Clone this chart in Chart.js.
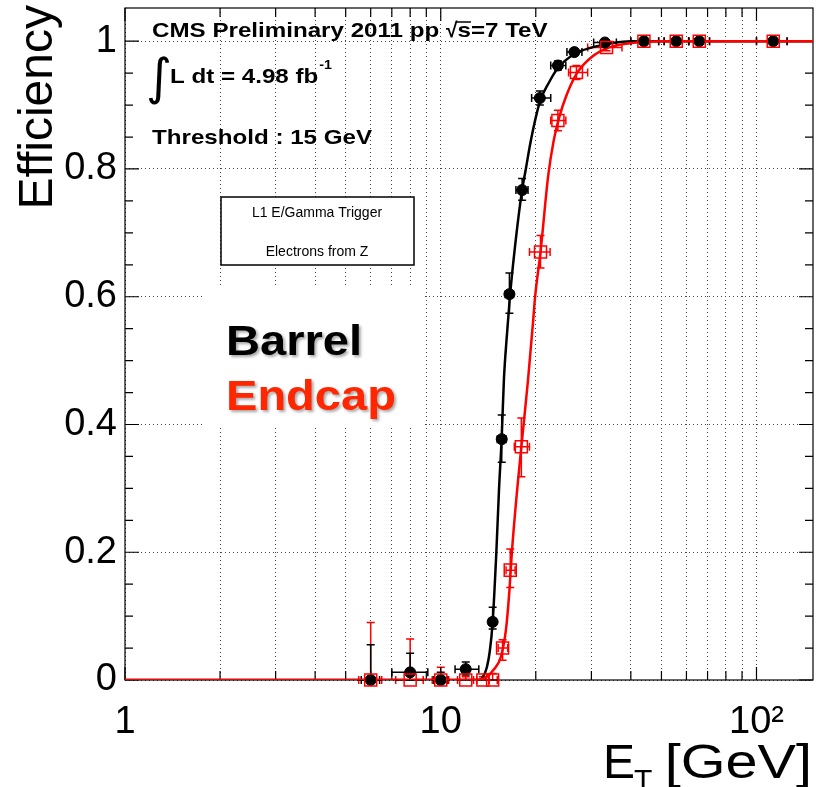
<!DOCTYPE html>
<html><head><meta charset="utf-8">
<script src="https://cdn.jsdelivr.net/npm/chart.js@4"></script>
<style>html,body{margin:0;padding:0;background:#fff}canvas{display:block}</style>
</head><body>
<canvas id="c" width="816" height="787"></canvas>
<script>
// ---------- data ----------
const barrelX  = [6, 8, 10, 12, 14.6, 15.6, 16.5, 18.1, 20.6, 23.5, 26.5, 33.1, 44, 55.7, 65.9, 113];
const barrelY  = [0, 0.012, 0, 0.017, 0.091, 0.377, 0.604, 0.767, 0.911, 0.962, 0.983, 0.998, 1, 1, 1, 1];
const barrelXLo = [5.6, 7.0, 9.5, 11.1, 14.2, 15.1, 16.0, 17.3, 19.4, 22.3, 25.1, 30.5, 40, 51, 61, 100];
const barrelXHi = [6.4, 9.1, 10.5, 13.2, 15.0, 16.1, 17.0, 18.9, 22.3, 24.9, 28.0, 36, 49, 61, 71, 125];
const barrelYLo = [0, 0, 0, 0.008, 0.08, 0.341, 0.574, 0.751, 0.9, 0.955, 0.978, 0.995, 0.998, 0.998, 0.998, 0.998];
const barrelYHi = [0.055, 0.042, 0.012, 0.028, 0.114, 0.415, 0.637, 0.785, 0.922, 0.969, 0.988, 1, 1, 1, 1, 1];

const endcapX  = [6, 8, 10, 12, 13.6, 14.6, 15.7, 16.6, 18.0, 20.7, 23.5, 26.9, 33.5, 44, 55.7, 65.9, 113];
const endcapY  = [0, 0, 0, 0, 0, 0, 0.05, 0.172, 0.365, 0.67, 0.876, 0.951, 0.99, 1, 1, 1, 1];
const endcapXLo = [5.5, 7.2, 9.4, 11.3, 13.0, 14.2, 15.2, 16.1, 17.1, 19.1, 22.3, 25.4, 29.2, 40, 51, 61, 100];
const endcapXHi = [6.5, 8.8, 10.6, 12.7, 14.2, 15.1, 16.3, 17.2, 19.1, 22.2, 24.9, 29.2, 37.5, 49, 61, 71, 125];
const endcapYLo = [0, 0, 0, 0, 0, 0, 0.031, 0.145, 0.318, 0.645, 0.86, 0.94, 0.985, 0.998, 0.998, 0.998, 0.998];
const endcapYHi = [0.09, 0.064, 0.02, 0.005, 0.005, 0.01, 0.063, 0.205, 0.41, 0.696, 0.892, 0.962, 0.995, 1, 1, 1, 1];

// fitted turn-on curves
const barrelFitX = [1, 13.2, 13.6, 14.0, 14.3, 14.6, 15.0, 15.3, 15.6, 15.85, 16.2, 16.56, 17.2, 18.07, 18.6, 19.3, 20.6, 22, 23.5, 26.5, 30, 35, 40, 151];
const barrelFitY = [0, 0, 0.005, 0.02, 0.045, 0.09, 0.2, 0.3, 0.38, 0.47, 0.54, 0.6, 0.68, 0.765, 0.8, 0.845, 0.905, 0.935, 0.958, 0.98, 0.99, 0.997, 1, 1];
const endcapFitX = [1, 13.0, 14.0, 14.7, 15.5, 16.1, 16.5, 16.8, 17.4, 18.0, 18.9, 19.6, 19.9, 20.7, 21.9, 22.8, 23.7, 25, 27, 30, 34, 40, 50, 151];
const endcapFitY = [0, 0, 0.005, 0.016, 0.036, 0.08, 0.14, 0.2, 0.29, 0.365, 0.47, 0.56, 0.6, 0.67, 0.79, 0.845, 0.88, 0.915, 0.95, 0.975, 0.99, 0.997, 1, 1];

// axes
const xTickValues = [1,2,3,4,5,6,7,8,9,10,20,30,40,50,60,70,80,90,100];
const xTickLabels = {1:'1', 10:'10', 100:'10\u00B2'};
const yTickValues = [0, 0.2, 0.4, 0.6, 0.8, 1.0];
const yMinorValues = [0.05,0.1,0.15,0.25,0.3,0.35,0.45,0.5,0.55,0.65,0.7,0.75,0.85,0.9,0.95];
const X_MIN = 1, X_MAX = 151, Y_MIN = 0, Y_MAX = 1.052;

const FONT = "'Liberation Sans', Arial, Helvetica, sans-serif";
const RED = '#ff0000';

const pts = (xs, ys) => xs.map((x, i) => ({x, y: ys[i]}));

const errorBars = {
  id: 'errorBars',
  beforeDatasetsDraw(chart) {
    const {ctx, scales: {x, y}} = chart;
    const sets = [
      {xs: endcapX, ys: endcapY, xl: endcapXLo, xh: endcapXHi, yl: endcapYLo, yh: endcapYHi, c: RED},
      {xs: barrelX, ys: barrelY, xl: barrelXLo, xh: barrelXHi, yl: barrelYLo, yh: barrelYHi, c: '#000'}
    ];
    ctx.save();
    ctx.lineWidth = 1.5;
    const cap = 4;
    sets.forEach(s => {
      ctx.strokeStyle = s.c;
      s.xs.forEach((xv, i) => {
        const px = x.getPixelForValue(xv), py = y.getPixelForValue(s.ys[i]);
        const x0 = x.getPixelForValue(s.xl[i]), x1 = x.getPixelForValue(s.xh[i]);
        const y0 = y.getPixelForValue(s.yl[i]), y1 = y.getPixelForValue(s.yh[i]);
        ctx.beginPath();
        ctx.moveTo(x0, py); ctx.lineTo(x1, py);
        ctx.moveTo(x0, py - cap); ctx.lineTo(x0, py + cap);
        ctx.moveTo(x1, py - cap); ctx.lineTo(x1, py + cap);
        if (Math.abs(y1 - y0) > 0.5) {
          ctx.moveTo(px, y0); ctx.lineTo(px, y1);
          if (y1 < py - 1) { ctx.moveTo(px - cap, y1); ctx.lineTo(px + cap, y1); }
          if (y0 > py + 1) { ctx.moveTo(px - cap, y0); ctx.lineTo(px + cap, y0); }
        }
        ctx.stroke();
      });
    });
    ctx.restore();
  }
};

function stretchText(ctx, txt, x, y, font, color, sx, align) {
  ctx.save();
  ctx.font = font; ctx.fillStyle = color;
  ctx.textAlign = align || 'left'; ctx.textBaseline = 'alphabetic';
  ctx.translate(x, y); ctx.scale(sx, 1);
  ctx.fillText(txt, 0, 0);
  const w = ctx.measureText(txt).width * sx;
  ctx.restore();
  return w;
}

const decor = {
  id: 'decor',
  beforeDraw(chart) {
    const {ctx, width, height} = chart;
    ctx.save(); ctx.fillStyle = '#fff'; ctx.fillRect(0, 0, width, height); ctx.restore();
  },
  beforeDatasetsDraw(chart) {
    const {ctx, chartArea: a, scales: {x, y}} = chart;
    ctx.save();
    // white patch behind the Barrel / Endcap labels
    ctx.fillStyle = '#fff';
    ctx.fillRect(203, 288, 222, 140);
    // info box
    ctx.fillRect(221, 197, 193, 68);
    ctx.strokeStyle = '#000'; ctx.lineWidth = 1.5;
    ctx.strokeRect(221, 197, 193, 68);
    ctx.fillStyle = '#000';
    ctx.font = '14px ' + FONT; ctx.textAlign = 'center'; ctx.textBaseline = 'alphabetic';
    ctx.fillText('L1 E/Gamma Trigger', 317, 217);
    ctx.fillText('Electrons from Z', 317, 256);
    // frame
    ctx.lineWidth = 1.2; ctx.strokeStyle = '#000';
    ctx.strokeRect(a.left, a.top, a.right - a.left, a.bottom - a.top);
    // inner ticks
    ctx.beginPath();
    xTickValues.forEach(v => {
      const px = x.getPixelForValue(v);
      const L = (v === 1 || v === 10 || v === 100) ? 13 : 9;
      ctx.moveTo(px, a.bottom); ctx.lineTo(px, a.bottom - L);
      ctx.moveTo(px, a.top); ctx.lineTo(px, a.top + L);
    });
    yTickValues.forEach(v => {
      const py = y.getPixelForValue(v);
      ctx.moveTo(a.left, py); ctx.lineTo(a.left + 14, py);
      ctx.moveTo(a.right, py); ctx.lineTo(a.right - 14, py);
    });
    yMinorValues.forEach(v => {
      const py = y.getPixelForValue(v);
      ctx.moveTo(a.left, py); ctx.lineTo(a.left + 8, py);
      ctx.moveTo(a.right, py); ctx.lineTo(a.right - 8, py);
    });
    ctx.stroke();
    ctx.restore();
  },
  afterDraw(chart) {
    const {ctx} = chart;
    ctx.save();
    // CMS header
    const bf = 'bold 21px ' + FONT;
    let cx = 152;
    cx += stretchText(ctx, 'CMS Preliminary 2011 pp ', cx, 37, bf, '#000', 1.15);
    const rw = stretchText(ctx, '\u221A', cx, 37, bf, '#000', 1.0);
    cx += rw;
    const sw = stretchText(ctx, 's', cx, 37, bf, '#000', 1.15);
    ctx.strokeStyle = '#000'; ctx.lineWidth = 1.5;
    ctx.beginPath(); ctx.moveTo(cx - 1, 22); ctx.lineTo(cx + sw, 22); ctx.stroke();
    cx += sw;
    stretchText(ctx, '=7 TeV', cx, 37, bf, '#000', 1.15);
    // integral
    stretchText(ctx, '\u222B', 146, 94, "50px 'DejaVu Sans', sans-serif", '#000', 1.0);
    const lw = stretchText(ctx, 'L dt = 4.98 fb', 170, 83, bf, '#000', 1.15);
    stretchText(ctx, '-1', 170 + lw + 1, 69, 'bold 13px ' + FONT, '#000', 1.1);
    stretchText(ctx, 'Threshold : 15 GeV', 152, 144, bf, '#000', 1.15);
    // Barrel / Endcap
    ctx.shadowColor = 'rgba(0,0,0,0.35)'; ctx.shadowOffsetX = 2; ctx.shadowOffsetY = 2; ctx.shadowBlur = 3;
    stretchText(ctx, 'Barrel', 226, 355, 'bold 42px ' + FONT, '#000', 1.12);
    stretchText(ctx, 'Endcap', 226, 410, 'bold 42px ' + FONT, '#ff2600', 1.12);
    ctx.shadowColor = 'rgba(0,0,0,0)'; ctx.shadowBlur = 0; ctx.shadowOffsetX = 0; ctx.shadowOffsetY = 0;
    // axis titles
    ctx.save();
    ctx.translate(52, 5); ctx.rotate(-Math.PI / 2);
    ctx.font = '48px ' + FONT; ctx.fillStyle = '#000'; ctx.textAlign = 'right'; ctx.textBaseline = 'alphabetic';
    ctx.fillText('Efficiency', 0, 0);
    ctx.restore();
    stretchText(ctx, '[GeV]', 812, 778, '48px ' + FONT, '#000', 1.2, 'right');
    stretchText(ctx, 'E', 603, 778, '48px ' + FONT, '#000', 1.0);
    stretchText(ctx, 'T', 634, 790, '30px ' + FONT, '#000', 1.0);
    ctx.restore();
  }
};

new Chart(document.getElementById('c'), {
  type: 'scatter',
  data: {
    datasets: [
      {type: 'line', label: 'Barrel fit', data: pts(barrelFitX, barrelFitY), borderColor: '#000', borderWidth: 2.5,
       pointRadius: 0, cubicInterpolationMode: 'monotone', fill: false, order: 4},
      {type: 'line', label: 'Endcap fit', data: pts(endcapFitX, endcapFitY), borderColor: RED, borderWidth: 2.5,
       pointRadius: 0, cubicInterpolationMode: 'monotone', fill: false, order: 3},
      {label: 'Barrel', data: pts(barrelX, barrelY), pointStyle: 'circle', pointRadius: 5.5,
       backgroundColor: '#000', borderColor: '#000', borderWidth: 1, clip: false, order: 2},
      {label: 'Endcap', data: pts(endcapX, endcapY), pointStyle: 'rect', pointRadius: 8.5,
       backgroundColor: 'rgba(0,0,0,0)', borderColor: RED, borderWidth: 1.5, clip: false, order: 1}
    ]
  },
  options: {
    responsive: false, animation: false, devicePixelRatio: 1,
    layout: {autoPadding: false, padding: {top: 8, right: 3, left: 0, bottom: 0}},
    plugins: {legend: {display: false}, tooltip: {enabled: false}},
    scales: {
      x: {
        type: 'logarithmic', min: X_MIN, max: X_MAX,
        afterBuildTicks: s => { s.ticks = xTickValues.map(v => ({value: v})); },
        afterFit: s => { s.height = 107; s.paddingLeft = 0; s.paddingRight = 0; },
        ticks: {autoSkip: false, maxRotation: 0, minRotation: 0, padding: 20, color: '#000',
                font: {size: 38, family: FONT},
                callback: v => xTickLabels[v] || ''},
        grid: {color: '#444', lineWidth: 1, drawTicks: false},
        border: {display: false, dash: [1, 3]}
      },
      y: {
        type: 'linear', min: Y_MIN, max: Y_MAX,
        afterBuildTicks: s => { s.ticks = yTickValues.map(v => ({value: v})); },
        afterFit: s => { s.width = 125; s.paddingTop = 0; s.paddingBottom = 0; },
        ticks: {padding: 8, color: '#000', font: {size: 38, family: FONT},
                callback: v => (v === 0 ? '0' : v === 1 ? '1' : v.toFixed(1))},
        grid: {color: '#444', lineWidth: 1, drawTicks: false},
        border: {display: false, dash: [1, 3]}
      }
    }
  },
  plugins: [errorBars, decor]
});
</script>
</body></html>
